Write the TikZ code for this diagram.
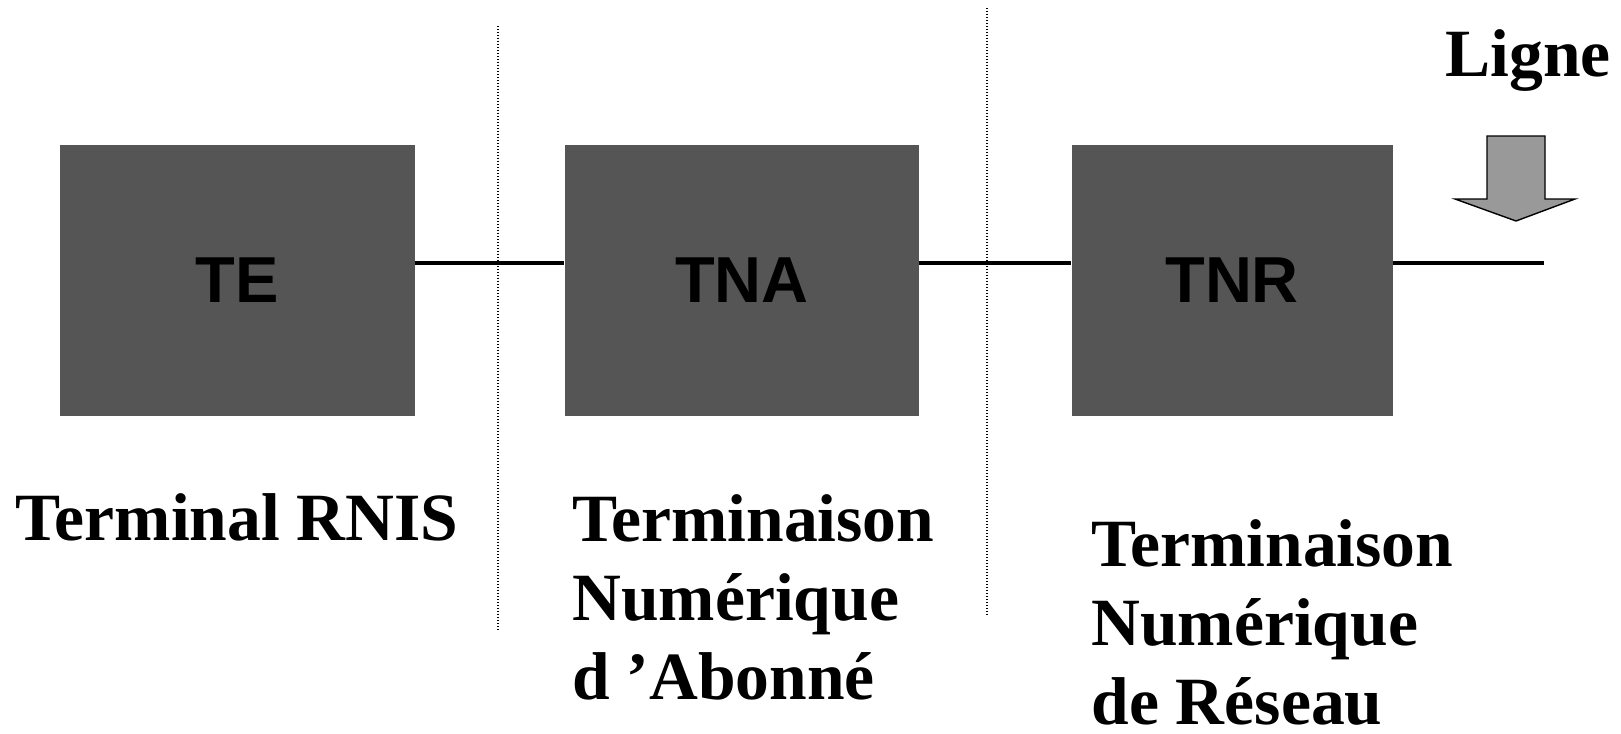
\documentclass[tikz,border=0pt]{standalone}
\usepackage{fontspec}
\setmainfont{Liberation Serif}
\setsansfont{Liberation Sans}
\usepackage{tikz}
\usetikzlibrary{positioning}
\definecolor{boxgray}{RGB}{85,85,85}
\definecolor{arrowgray}{RGB}{153,153,153}

\begin{document}
\begin{tikzpicture}[
    x=0.5pt, y=-0.5pt,
    box/.style={fill=boxgray, rectangle, minimum height=135.5pt, inner sep=0pt, font=\sffamily\bfseries\fontsize{32.5}{39}\selectfont},
    link/.style={line width=2pt, black},
    border/.style={line width=0.7pt, dash pattern=on 0.6pt off 0.9pt},
    caption/.style={anchor=base west, align=left, inner sep=0pt, font=\rmfamily\bfseries\fontsize{33.8}{39.5}\selectfont}
]
\useasboundingbox (0,0) rectangle (1621,733);

% separations
\coordinate (b1top) at (498,26);
\coordinate (b1bot) at (498,631);
\coordinate (b2top) at (987,8);
\coordinate (b2bot) at (987,615);
\draw[border] (b1top) -- (b1bot);
\draw[border] (b2top) -- (b2bot);

\node[box, minimum width=177.5pt] (te) at (237.5,280.5) {TE};
\node[box, minimum width=177pt, right=74.5pt of te] (tna) {TNA};
\node[box, minimum width=160.5pt, right=76pt of tna] (tnr) {TNR};
\coordinate (lineend) at (1544,263);

\draw[link] (te.east |- lineend) -- (tna.west |- lineend);
\draw[link] (tna.east |- lineend) -- (tnr.west |- lineend);
\draw[link] (tnr.east |- lineend) -- (lineend);

% arrow of the line
\draw[fill=arrowgray, line width=0.7pt] (1487,136) -- (1545,136) -- (1545,199) -- (1575,199)
    -- (1516,221) -- (1455,199) -- (1487,199) -- cycle;

% base is the last line
\node[caption] (ligne) at (1445,76) {Ligne};
\node[caption] (tetext) at (15.5,540) {Terminal RNIS};
\node[caption] (tnatext) at (572,699) {Terminaison\\Numérique\\d 'Abonné};
\node[caption] (tnrtext) at (1091,724) {Terminaison\\Numérique\\de Réseau};
\end{tikzpicture}
\end{document}
